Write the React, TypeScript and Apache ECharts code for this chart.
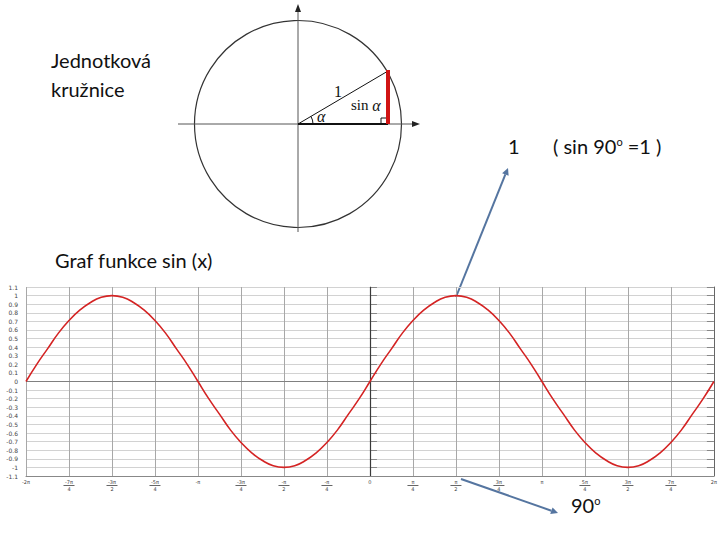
import React, { useEffect, useRef } from "react";
import * as echarts from "echarts";

// x tick labels, one per quarter of π, from -2π to 2π
const tickLabels = [
  "-2π", "-7π/4", "-3π/2", "-5π/4", "-π", "-3π/4", "-π/2", "-π/4", "0",
  "π/4", "π/2", "3π/4", "π", "5π/4", "3π/2", "7π/4", "2π",
];

// sin(x), every π/16 from -2π to 2π
const archUp = [0, 0.2, 0.38, 0.56, 0.71, 0.83, 0.92, 0.98, 1, 0.98, 0.92, 0.83, 0.71, 0.56, 0.38, 0.2];
const archDown = [0, -0.2, -0.38, -0.56, -0.71, -0.83, -0.92, -0.98, -1, -0.98, -0.92, -0.83, -0.71, -0.56, -0.38, -0.2];
const sinValues = [...archUp, ...archDown, ...archUp, ...archDown, 0];

const xMinQuarter = -8; // -2π in units of π/4
const samplesPerQuarter = 4; // π/16 steps

const fontTitle = "Lato, 'Open Sans', sans-serif";
const serif = "'Liberation Serif', 'DejaVu Serif', serif";

export default function App() {
  const ref = useRef<HTMLDivElement>(null);

  useEffect(() => {
    if (!ref.current) return;
    const chart = echarts.init(ref.current, undefined, { renderer: "svg" });

    const data = sinValues.map((v, i) => [xMinQuarter + i / samplesPerQuarter, v]);

    const arrow = (x1: number, y1: number, x2: number, y2: number, color: string) => {
      const dx = x2 - x1, dy = y2 - y1;
      const len = Math.sqrt(dx * dx + dy * dy);
      const ux = dx / len, uy = dy / len;
      const hl = 7, hw = 3.5;
      const bx = x2 - ux * hl, by = y2 - uy * hl;
      const px = -uy, py = ux;
      return [
        { type: "line", shape: { x1, y1, x2: bx, y2: by }, style: { stroke: color, lineWidth: 2 } },
        {
          type: "polygon",
          shape: { points: [[x2, y2], [bx + px * hw, by + py * hw], [bx - px * hw, by - py * hw]] },
          style: { fill: color },
        },
      ];
    };

    const cx = 298, cy = 124, r = 103.5;

    const option: any = {
      animation: false,
      backgroundColor: "#ffffff",
      grid: { left: 26, right: 6, top: 287, bottom: 64, containLabel: false },
      xAxis: {
        type: "value",
        min: -8,
        max: 8,
        interval: 1,
        axisLine: { onZero: false, lineStyle: { color: "#888", width: 1 } },
        axisTick: { show: false },
        splitLine: { show: true, lineStyle: { color: "#a8a8a8", width: 1 } },
        axisLabel: {
          margin: 3,
          formatter: (v: number) => {
            const s = tickLabels[Math.round(v) + 8];
            if (s && s.includes("/")) {
              const [n, d] = s.split("/");
              return `{n|${n}}\n{b| }\n{d|${d}}`;
            }
            return `{n|${s}}`;
          },
          rich: {
            n: { fontSize: 5, lineHeight: 6, color: "#444", fontFamily: "DejaVu Sans" },
            b: { fontSize: 1, lineHeight: 1, height: 1, width: 11, backgroundColor: "#666", color: "#666" },
            d: { fontSize: 5, lineHeight: 6, color: "#444", fontFamily: "DejaVu Sans" },
          },
        },
      },
      yAxis: [
        {
          type: "value",
          min: -1.1,
          max: 1.1,
          interval: 0.1,
          axisLine: { show: true, lineStyle: { color: "#888" } },
          axisTick: { show: true, inside: true, length: 7, lineStyle: { color: "#888" } },
          splitLine: { show: true, lineStyle: { color: "#d2d2d2", width: 1 } },
          axisLabel: {
            margin: 8,
            fontSize: 6,
            color: "#444",
            fontFamily: "DejaVu Sans",
            formatter: (v: number) => String(Number(v.toFixed(1))),
          },
        },
        {
          type: "value",
          position: "right",
          min: -1.1,
          max: 1.1,
          interval: 0.1,
          axisLine: { show: true, lineStyle: { color: "#666" } },
          axisTick: { show: true, inside: true, length: 7, lineStyle: { color: "#888" } },
          splitLine: { show: false },
          axisLabel: { show: false },
        },
      ],
      series: [
        {
          type: "line",
          data,
          smooth: true,
          showSymbol: false,
          lineStyle: { color: "#d42424", width: 1.6 },
          z: 5,
          markLine: {
            silent: true,
            symbol: "none",
            label: { show: false },
            data: [
              { yAxis: 0, lineStyle: { color: "#808080", width: 1.2, type: "solid" } },
              { xAxis: 0, lineStyle: { color: "#3a3a3a", width: 1.2, type: "solid" } },
            ],
          },
        },
      ],
      graphic: [
        // unit circle diagram
        { type: "circle", shape: { cx, cy, r }, style: { fill: "none", stroke: "#333", lineWidth: 1.2 } },
        { type: "line", shape: { x1: 178, y1: cy, x2: 414, y2: cy }, style: { stroke: "#555", lineWidth: 1 } },
        { type: "polygon", shape: { points: [[420, cy], [412, cy - 3], [412, cy + 3]] }, style: { fill: "#222" } },
        { type: "line", shape: { x1: cx, y1: 232, x2: cx, y2: 11 }, style: { stroke: "#555", lineWidth: 1 } },
        { type: "polygon", shape: { points: [[cx, 4], [cx - 3, 12], [cx + 3, 12]] }, style: { fill: "#222" } },
        { type: "line", shape: { x1: cx, y1: cy, x2: 388, y2: 71 }, style: { stroke: "#111", lineWidth: 1 } },
        { type: "line", shape: { x1: cx, y1: cy, x2: 388, y2: cy }, style: { stroke: "#111", lineWidth: 2 } },
        { type: "rect", shape: { x: 381, y: 118, width: 7, height: 6 }, style: { fill: "none", stroke: "#111", lineWidth: 1 } },
        { type: "line", shape: { x1: 388, y1: 70, x2: 388, y2: 124 }, style: { stroke: "#d01414", lineWidth: 4 } },
        { type: "arc", shape: { cx, cy, r: 15, startAngle: -0.53, endAngle: 0, clockwise: true }, style: { stroke: "#111", lineWidth: 1, fill: "none" } },
        { type: "text", x: 334, y: 83, style: { text: "1", font: `16px ${serif}`, fill: "#111", verticalAlign: "top" } },
        {
          type: "text", x: 351, y: 97,
          style: {
            text: "sin {a|α}", font: `15px ${serif}`, fill: "#111", verticalAlign: "top",
            rich: { a: { fontStyle: "italic", fontSize: 16, fontFamily: serif, fill: "#111" } },
          },
        },
        { type: "text", x: 317, y: 108, style: { text: "α", font: `italic 16px ${serif}`, fill: "#111", verticalAlign: "top" } },
        // texts
        { type: "text", x: 51, y: 50, style: { text: "Jednotková", font: `20px ${fontTitle}`, fill: "#111", verticalAlign: "top" } },
        { type: "text", x: 51, y: 79, style: { text: "kružnice", font: `20px ${fontTitle}`, fill: "#111", verticalAlign: "top" } },
        { type: "text", x: 55, y: 250, style: { text: "Graf funkce sin (x)", font: `20px ${fontTitle}`, fill: "#111", verticalAlign: "top" } },
        { type: "text", x: 508, y: 136, style: { text: "1", font: `20px ${fontTitle}`, fill: "#111", verticalAlign: "top" } },
        {
          type: "text", x: 553, y: 136,
          style: {
            text: "( sin 90{s|o} =1 )", font: `20px ${fontTitle}`, fill: "#111", verticalAlign: "top",
            rich: { s: { fontSize: 11, fontFamily: fontTitle, verticalAlign: "top", padding: [0, 0, 9, 0], fill: "#111" } },
          },
        },
        {
          type: "text", x: 571, y: 495,
          style: {
            text: "90{s|o}", font: `20px ${fontTitle}`, fill: "#111", verticalAlign: "top",
            rich: { s: { fontSize: 11, fontFamily: fontTitle, padding: [0, 0, 9, 0], fill: "#111" } },
          },
        },
        ...arrow(456, 297, 508, 168, "#5575a0"),
        ...arrow(461, 479, 558, 513, "#5575a0"),
      ],
    };

    chart.setOption(option);
    return () => chart.dispose();
  }, []);

  return (
    <div
      ref={ref}
      style={{ position: "fixed", left: 0, top: 0, width: 720, height: 540 }}
    />
  );
}
